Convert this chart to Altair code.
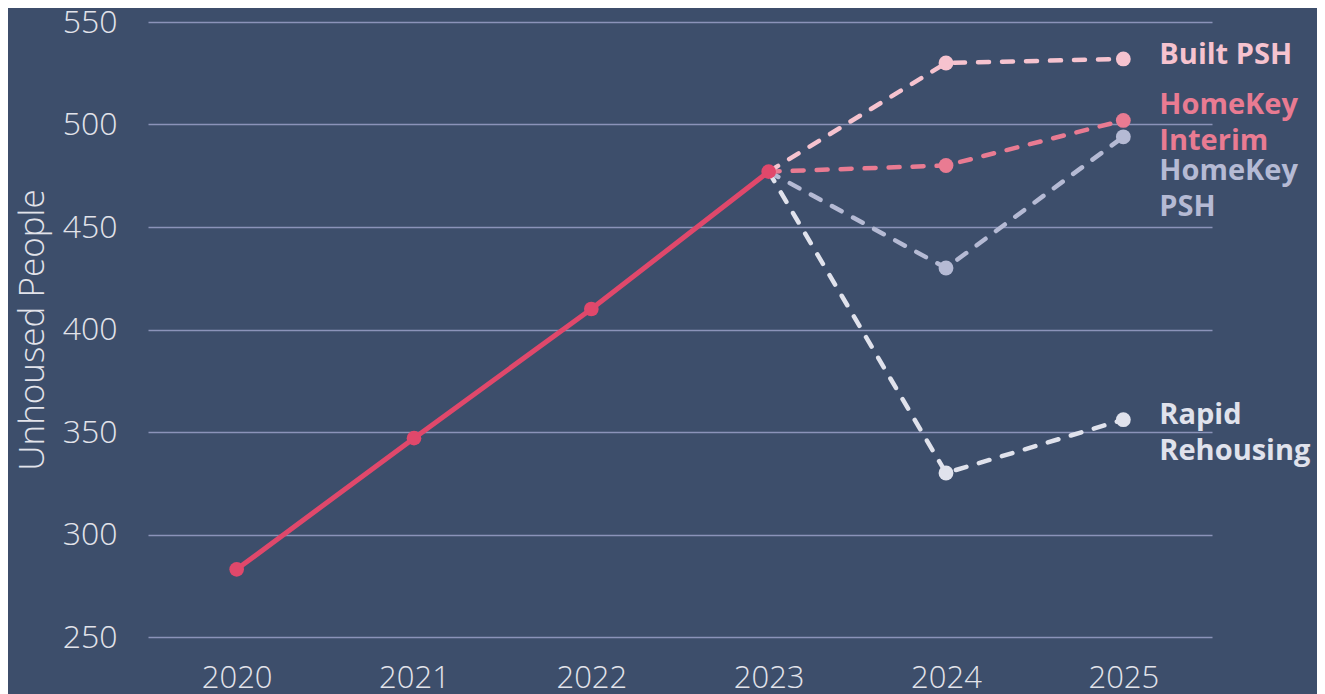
import altair as alt
import pandas as pd

years = ["2020", "2021", "2022", "2023", "2024", "2025"]
actual = [283, 347, 410, 477]

scen_years = ["2023", "2024", "2025"]
built_psh = [477, 530, 532]
homekey_interim = [477, 480, 502]
homekey_psh = [477, 430, 494]
rapid_rehousing = [477, 330, 356]

series_names = ["Rapid Rehousing", "HomeKey PSH", "HomeKey Interim", "Built PSH"]
series_colors = ["#e0e2ec", "#b5bad4", "#e97b92", "#f6c3cf"]
main_color = "#e0486b"
bg = "#3d4e6b"
text_color = "#e2e3ea"

series_vals = dict(zip(series_names, [rapid_rehousing, homekey_psh, homekey_interim, built_psh]))

rows = []
for name in series_names:
    for i, (y, v) in enumerate(zip(scen_years, series_vals[name])):
        rows.append({"year": y, "value": v, "series": name, "order": i})
scen = pd.DataFrame(rows)
main = pd.DataFrame({"year": years[:4], "value": actual})

xenc = alt.X("year:O", sort=years, scale=alt.Scale(type="point", padding=0.5, domain=years),
             axis=alt.Axis(title=None, labelAngle=0, labelFontSize=31, labelColor=text_color,
                           labelFont="Open Sans", labelFontWeight=300, labelPadding=26,
                           ticks=False, domain=False, grid=False))
yenc = alt.Y("value:Q", scale=alt.Scale(domain=[250, 550], nice=False, zero=False),
             axis=alt.Axis(title="Unhoused People", titleFontSize=35, titleFont="Open Sans",
                           titleFontWeight=300, titleColor=text_color, titlePadding=12,
                           values=[250, 300, 350, 400, 450, 500, 550],
                           labelFontSize=32, labelFont="Open Sans", labelFontWeight=300,
                           labelColor=text_color, labelPadding=31, ticks=False, domain=False,
                           grid=True, gridColor="#8b93b9", gridWidth=1.5))
cscale = alt.Scale(domain=series_names, range=series_colors)

base_s = alt.Chart(scen)
dashed = base_s.mark_line(strokeDash=[11, 13], strokeWidth=4.5, strokeCap="round").encode(
    x=xenc, y=yenc, color=alt.Color("series:N", scale=cscale, legend=None),
    detail="series:N", order="order:Q")
spts = base_s.transform_filter(alt.datum.year != "2023").mark_circle(size=220, opacity=1).encode(
    x=xenc, y=yenc, color=alt.Color("series:N", scale=cscale, legend=None))

base_m = alt.Chart(main)
mline = base_m.mark_line(strokeWidth=5, color=main_color).encode(x=xenc, y=yenc)
mpts = base_m.mark_circle(size=215, opacity=1, color=main_color).encode(x=xenc, y=yenc)


def label(name, text, color, dy):
    df = pd.DataFrame({"year": ["2025"], "value": [series_vals[name][-1]], "t": [text]})
    return alt.Chart(df).mark_text(align="left", baseline="middle", dx=36, dy=dy, font="Open Sans",
                                   fontWeight="bold", fontSize=29, color=color, lineBreak="\n",
                                   lineHeight=36).encode(x=xenc, y=yenc, text="t:N")


labels = [
    label("Built PSH", "Built PSH", series_colors[3], -3.5),
    label("HomeKey Interim", "HomeKey\nInterim", series_colors[2], -15.5),
    label("HomeKey PSH", "HomeKey\nPSH", series_colors[1], 34.5),
    label("Rapid Rehousing", "Rapid\nRehousing", series_colors[0], -4.5),
]

chart = alt.layer(dashed, spts, mline, mpts, *labels).properties(
    width=1064, height=615, background=bg,
    padding={"left": 140, "top": 14, "right": 105, "bottom": 57},
    autosize=alt.AutoSizeParams(type="none"),
).configure_view(stroke=None)

chart.save("out.html", embed_options={"renderer": "svg", "actions": False})
